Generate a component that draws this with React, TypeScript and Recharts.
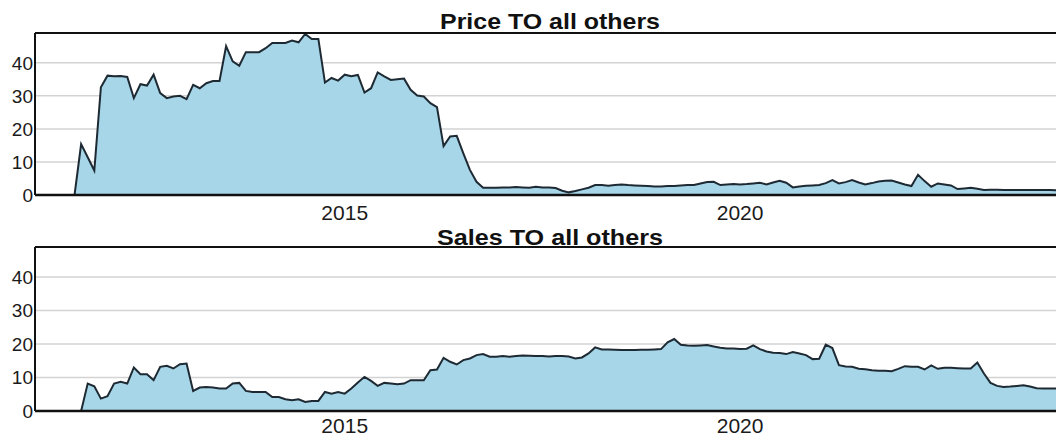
import { Area, AreaChart, CartesianGrid, ReferenceLine, XAxis, YAxis } from "recharts";

// monthly values, Feb 2011 .. Feb 2024
const priceValues = [
  0, 0, 0, 0, 0, 0, 0, 15.4, 11.4, 7.4,
  32.6, 36.1, 35.9, 36, 35.7, 29.3, 33.5, 33.1, 36.4, 30.8,
  29.3, 29.8, 30, 29, 33.3, 32.3, 33.8, 34.5, 34.5, 45,
  40.4, 39.1, 43.2, 43.2, 43.2, 44.4, 46, 46, 46, 46.7,
  46.2, 48.7, 47.2, 47.2, 34, 35.4, 34.6, 36.4, 35.9, 36.3,
  31, 32.3, 37.1, 35.9, 34.8, 35, 35.2, 31.8, 30.1, 29.8,
  27.8, 26.6, 14.8, 17.7, 17.9, 12.6, 7.6, 4, 2.2, 2.2,
  2.2, 2.3, 2.3, 2.4, 2.3, 2.2, 2.5, 2.3, 2.3, 2.1,
  1.3, 0.8, 1.2, 1.7, 2.2, 3, 3, 2.8, 3, 3.2,
  3, 2.9, 2.8, 2.7, 2.6, 2.6, 2.7, 2.7, 2.9, 3,
  3, 3.5, 3.9, 4, 3, 3.2, 3.3, 3.2, 3.3, 3.5,
  3.7, 3.2, 3.8, 4.3, 3.7, 2.3, 2.6, 2.8, 2.9, 3,
  3.6, 4.5, 3.5, 3.9, 4.5, 3.8, 3.2, 3.6, 4.1, 4.3,
  4.4, 3.8, 3.2, 2.7, 6.1, 4.2, 2.5, 3.5, 3.2, 2.9,
  1.8, 2, 2.2, 1.9, 1.5, 1.6, 1.6, 1.5, 1.5, 1.5,
  1.5, 1.5, 1.5, 1.5, 1.5, 1.4, 1.3,
];

const salesValues = [
  0, 0, 0, 0, 0, 0, 0, 0, 8.2, 7.4,
  3.7, 4.4, 8.2, 8.7, 8.2, 13, 11, 11, 9.2, 13.2,
  13.5, 12.7, 14, 14.2, 6, 7, 7.2, 7, 6.7, 6.7,
  8.2, 8.4, 6, 5.7, 5.7, 5.7, 4.2, 4.2, 3.5, 3.2,
  3.5, 2.7, 3, 3, 5.7, 5.2, 5.7, 5.2, 6.7, 8.5,
  10.2, 9, 7.5, 8.4, 8.2, 8, 8.2, 9.2, 9.2, 9.2,
  12.2, 12.4, 15.9, 14.7, 13.9, 15.2, 15.7, 16.7, 17, 16.2,
  16.2, 16.4, 16.2, 16.4, 16.6, 16.5, 16.4, 16.4, 16.3, 16.4,
  16.4, 16.3, 15.7, 16, 17.2, 19, 18.4, 18.4, 18.3, 18.2,
  18.2, 18.2, 18.3, 18.3, 18.4, 18.5, 20.5, 21.5, 19.8, 19.6,
  19.5, 19.6, 19.7, 19.3, 18.9, 18.7, 18.7, 18.5, 18.6, 19.6,
  18.5, 17.8, 17.4, 17.3, 17, 17.6, 17.2, 16.7, 15.5, 15.6,
  19.8, 18.8, 13.7, 13.3, 13.2, 12.6, 12.5, 12.2, 12, 12,
  11.9, 12.6, 13.4, 13.2, 13.2, 12.4, 13.6, 12.6, 12.9, 12.9,
  12.8, 12.7, 12.7, 14.5, 11.2, 8.4, 7.5, 7.2, 7.3, 7.5,
  7.7, 7.3, 6.8, 6.7, 6.7, 6.7, 6.7,
];

const START_YEAR = 2011;
const START_MONTH = 2;
const yearTicks = [2015, 2020];
const valueTicks = [0, 10, 20, 30, 40];
const titles = ["Price TO all others", "Sales TO all others"];

const toSeries = (values: number[]) =>
  values.map((v, i) => ({
    t: START_YEAR + (START_MONTH - 1 + i) / 12,
    v,
  }));

const xMin = START_YEAR + (START_MONTH - 1) / 12;
const xMax = START_YEAR + (START_MONTH - 1 + priceValues.length - 1) / 12;

const FONT = "'Liberation Sans', Arial, Helvetica, sans-serif";

function YTick(props: any) {
  const { x, y, payload } = props;
  return (
    <text x={x} y={y} dy="0.36em" textAnchor="end" fontSize={19} fontFamily={FONT} fill="#1a1a1a">
      {payload.value}
    </text>
  );
}

function XTick(props: any) {
  const { x, y, payload } = props;
  return (
    <text x={x} y={y} dy="0.71em" textAnchor="middle" fontSize={21} fontFamily={FONT} fill="#1a1a1a">
      {payload.value}
    </text>
  );
}

function Panel({
  values,
  height,
  marginTop,
  xAxisHeight,
  labelGap,
}: {
  values: number[];
  height: number;
  marginTop: number;
  xAxisHeight: number;
  labelGap: number;
}) {
  return (
    <AreaChart
      width={1070}
      height={height}
      data={toSeries(values)}
      margin={{ top: marginTop, right: 7, left: 0, bottom: 0 }}
    >
      <CartesianGrid vertical={false} stroke="#d3d3d3" strokeWidth={1.5} />
      <XAxis
        dataKey="t"
        type="number"
        scale="linear"
        domain={[xMin, xMax]}
        ticks={yearTicks}
        allowDataOverflow
        height={xAxisHeight}
        tickLine={false}
        tickSize={0}
        tickMargin={labelGap}
        axisLine={{ stroke: "#111", strokeWidth: 2.6 }}
        tick={<XTick />}
      />
      <YAxis
        type="number"
        domain={[0, 49]}
        ticks={valueTicks}
        allowDataOverflow
        width={35}
        tickLine={false}
        tickSize={0}
        tickMargin={2}
        axisLine={{ stroke: "#111", strokeWidth: 2 }}
        tick={<YTick />}
      />
      <ReferenceLine y={49} stroke="#111" strokeWidth={2} />
      <Area
        type="linear"
        dataKey="v"
        stroke="#1e2a33"
        strokeWidth={2}
        fill="#a7d6e8"
        fillOpacity={1}
        isAnimationActive={false}
        dot={false}
        activeDot={false}
      />
    </AreaChart>
  );
}

export default function App() {
  return (
    <div
      style={{
        position: "absolute",
        left: 0,
        top: 0,
        width: 1056,
        height: 436,
        overflow: "hidden",
        background: "#fff",
      }}
    >
      <div style={{ position: "absolute", left: 0, top: 0 }}>
        <Panel values={priceValues} height={232} marginTop={33} xAxisHeight={37} labelGap={10} />
      </div>
      <div style={{ position: "absolute", left: 0, top: 222 }}>
        <Panel values={salesValues} height={214} marginTop={25} xAxisHeight={25} labelGap={7} />
      </div>
      <svg
        width={1056}
        height={436}
        style={{ position: "absolute", left: 0, top: 0, pointerEvents: "none" }}
      >
        <text
          x={550}
          y={29}
          textAnchor="middle"
          fontSize={22}
          fontWeight="bold"
          fontFamily={FONT}
          fill="#111"
          textLength={220}
          lengthAdjust="spacingAndGlyphs"
        >
          {titles[0]}
        </text>
        <text
          x={550}
          y={245}
          textAnchor="middle"
          fontSize={22}
          fontWeight="bold"
          fontFamily={FONT}
          fill="#111"
          textLength={226}
          lengthAdjust="spacingAndGlyphs"
        >
          {titles[1]}
        </text>
      </svg>
    </div>
  );
}
